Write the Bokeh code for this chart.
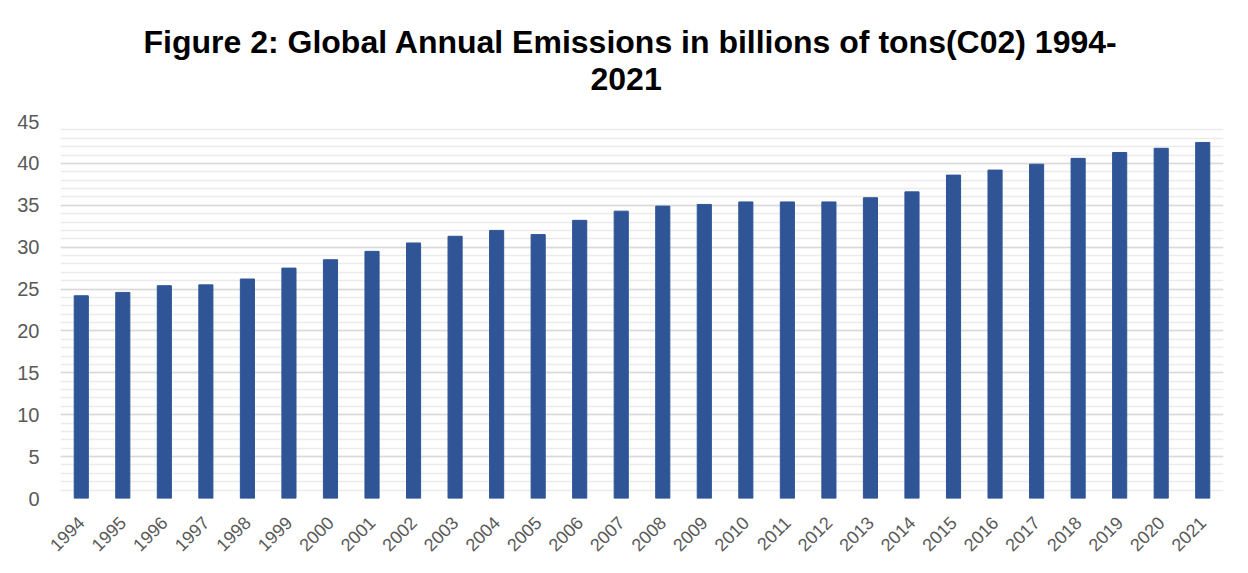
import math
from bokeh.plotting import figure
from bokeh.models import Range1d, FactorRange, SingleIntervalTicker, Title
from bokeh.embed import file_html
from bokeh.resources import INLINE

years = [str(y) for y in range(1994, 2022)]
emissions = [24.2, 24.6, 25.4, 25.5, 26.2, 27.5, 28.5, 29.5, 30.5, 31.3,
             32.0, 31.5, 33.2, 34.3, 34.9, 35.1, 35.4, 35.4, 35.4, 35.9,
             36.6, 38.6, 39.2, 39.9, 40.6, 41.3, 41.8, 42.5]
title_lines = ["Figure 2: Global Annual Emissions in billions of tons(C02) 1994-", "2021"]
y_ticks_max = 45

FONT = "Liberation Sans"
GRAY = "#595959"

p = figure(width=1248, height=573, output_backend="svg", toolbar_location=None,
           x_range=FactorRange(*years, range_padding=0),
           y_range=Range1d(0, y_ticks_max))

p.vbar(x=years, top=emissions, width=0.34, color="#2F5597")

p.min_border_left = 60
p.min_border_right = 25
p.min_border_bottom = 75
p.min_border_top = 121
p.outline_line_color = None
p.background_fill_color = "white"
p.border_fill_color = "white"

spacer = Title(text=" ", text_font=FONT, text_font_size="27px", standoff=0)
t2 = Title(text=title_lines[1], align="left", text_font=FONT, text_font_size="32px",
           text_font_style="bold", text_color="black", standoff=0, offset=530)
t1 = Title(text=title_lines[0], align="left", text_font=FONT, text_font_size="32px",
           text_font_style="bold", text_color="black", standoff=12, offset=83)
p.add_layout(spacer, "above")
p.add_layout(t2, "above")
p.add_layout(t1, "above")

p.xgrid.grid_line_color = None
p.ygrid.ticker = SingleIntervalTicker(interval=5, num_minor_ticks=5)
p.ygrid.grid_line_color = "#d9d9d9"
p.ygrid.grid_line_width = 1.5
p.ygrid.minor_grid_line_color = "#ebebeb"
p.ygrid.minor_grid_line_width = 1.5

p.yaxis.ticker = SingleIntervalTicker(interval=5)
p.yaxis.axis_line_color = None
p.yaxis.major_tick_line_color = None
p.yaxis.minor_tick_line_color = None
p.yaxis.major_label_text_font = FONT
p.yaxis.major_label_text_font_size = "20px"
p.yaxis.major_label_text_color = GRAY
p.yaxis.major_label_standoff = 15

p.xaxis.axis_line_color = None
p.xaxis.major_tick_line_color = None
p.xaxis.minor_tick_line_color = None
p.xaxis.major_label_orientation = math.pi / 4
p.xaxis.major_label_text_font = FONT
p.xaxis.major_label_text_font_size = "18px"
p.xaxis.major_label_text_color = GRAY
p.xaxis.major_label_standoff = 15

open("out.html", "w").write(file_html(p, INLINE))
